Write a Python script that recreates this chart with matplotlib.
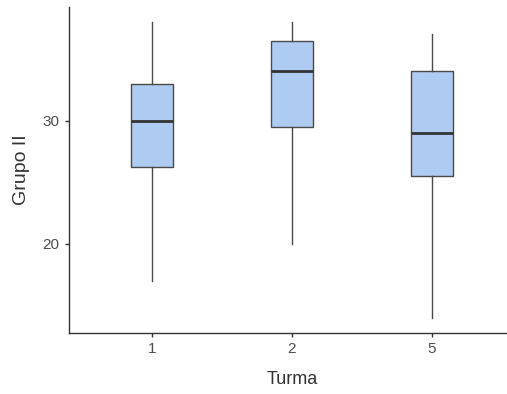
import matplotlib
matplotlib.use("Agg")
from matplotlib import pyplot as plt

turmas = ['1', '2', '5']
whislo = [17, 20, 14]
q1 = [26.25, 29.5, 25.5]
med = [30, 34, 29]
q3 = [33, 36.5, 34]
whishi = [38, 38, 37]

plt.rcParams['font.family'] = ['Liberation Sans', 'DejaVu Sans']

fig = plt.figure(figsize=(5.07, 3.94), dpi=100)
ax = fig.add_axes([68.5/507, (394-332.7)/394, 447/507, 325.4/394])

stats = []
for i, t in enumerate(turmas):
    stats.append(dict(label=t, whislo=whislo[i], q1=q1[i], med=med[i],
                      q3=q3[i], whishi=whishi[i], fliers=[]))

ax.bxp(stats, positions=[1, 2, 3], widths=0.3, patch_artist=True,
       showcaps=False, showfliers=False,
       boxprops=dict(facecolor='#aecbf2', edgecolor='#4a4a4a', linewidth=1.0),
       medianprops=dict(color='#333333', linewidth=2.0),
       whiskerprops=dict(color='#4a4a4a', linewidth=1.0))

ax.set_xlim(0.4, 3.6)
ax.set_ylim(12.8, 39.2)
ax.set_yticks([20, 30])
ax.set_xticks([1, 2, 3])
ax.set_xticklabels(turmas)

for s in ['top', 'right']:
    ax.spines[s].set_visible(False)
for s in ['left', 'bottom']:
    ax.spines[s].set_color('#333333')
    ax.spines[s].set_linewidth(1.0)
ax.tick_params(colors='#333333', labelcolor='#4d4d4d', labelsize=11, length=3, width=1.0)

ax.set_xlabel('Turma', fontsize=13, color='#333333', labelpad=11)
ax.set_ylabel('Grupo II', fontsize=14, color='#333333', labelpad=9)

plt.savefig('out.png', dpi=100)
